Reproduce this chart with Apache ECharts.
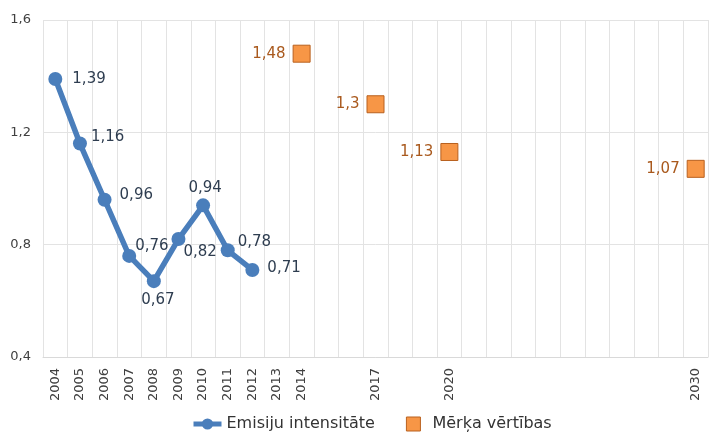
<!DOCTYPE html>
<html>
<head>
<meta charset="utf-8">
<script src="https://cdn.jsdelivr.net/npm/echarts@6/dist/echarts.min.js"></script>
<style>
    html, body { margin: 0; padding: 0; background: #fff; }
    #chart { width: 709px; height: 437px; }
</style>
</head>
<body>
<div id="chart"></div>
<script>
const years = ['2004', '2005', '2006', '2007', '2008', '2009', '2010', '2011', '2012', '2013',
    '2014', '2015', '2016', '2017', '2018', '2019', '2020', '2021', '2022', '2023',
    '2024', '2025', '2026', '2027', '2028', '2029', '2030'];
const shownYears = ['2004', '2005', '2006', '2007', '2008', '2009', '2010', '2011', '2012', '2013',
    '2014', '2017', '2020', '2030'];
const intensityYears = ['2004', '2005', '2006', '2007', '2008', '2009', '2010', '2011', '2012'];
const intensityValues = [1.39, 1.16, 0.96, 0.76, 0.67, 0.82, 0.94, 0.78, 0.71];
const targetYears = ['2014', '2017', '2020', '2030'];
const targetValues = [1.48, 1.3, 1.13, 1.07];

// label placement for each point of the blue line
const intensityLabelPos = ['right', 'right', 'right', 'right', 'bottom', 'right', 'top', 'right', 'right'];
const intensityLabelOffset = [[2, 0], [-4, -6], [0, -5], [-9, -10], [4, -4], [-10, 13], [2, 5], [-5, -8], [0, -2]];

const comma = v => String(v).replace('.', ',');

const chart = echarts.init(document.getElementById('chart'));

chart.setOption({
    textStyle: { fontFamily: 'DejaVu Sans' },
    animation: false,
    grid: {
        left: 43,
        right: 1,
        top: 20,
        bottom: 80
    },
    legend: {
        bottom: 0,
        left: 186,
        itemGap: 31,
        itemWidth: 28,
        itemHeight: 14,
        textStyle: { color: '#333', fontSize: 16, fontFamily: 'DejaVu Sans' },
        data: [
            { name: 'Emisiju intensitāte', lineStyle: { width: 5 } },
            {
                name: 'Mērķa vērtības',
                icon: 'path://M0,0 L10,0 L10,10 L0,10 Z',
                itemStyle: { color: '#f79646', opacity: 1, borderColor: '#b9611f', borderWidth: 1 }
            }
        ]
    },
    xAxis: {
        type: 'category',
        data: years,
        boundaryGap: true,
        axisLine: { lineStyle: { color: '#d9d9d9' } },
        axisTick: { show: false },
        splitLine: { show: true, interval: 0, lineStyle: { color: '#e3e3e3' } },
        axisLabel: {
            interval: 0,
            rotate: 90,
            margin: 11,
            color: '#404040',
            fontSize: 13,
            formatter: v => shownYears.includes(v) ? v : ''
        }
    },
    yAxis: {
        type: 'value',
        min: 0.4,
        max: 1.6,
        interval: 0.4,
        axisLine: { show: false },
        axisTick: { show: false },
        splitLine: { lineStyle: { color: '#e3e3e3' } },
        axisLabel: {
            color: '#404040',
            fontSize: 13,
            margin: 12,
            formatter: v => comma(Math.round(v * 10) / 10)
        }
    },
    series: [
        {
            name: 'Emisiju intensitāte',
            type: 'line',
            data: intensityYears.map((y, i) => ({
                value: [y, intensityValues[i]],
                label: { position: intensityLabelPos[i], offset: intensityLabelOffset[i] }
            })),
            symbol: 'circle',
            symbolSize: 14,
            lineStyle: { color: '#4a7ebb', width: 5.5 },
            itemStyle: { color: '#4a7ebb' },
            label: {
                show: true,
                distance: 8,
                color: '#2e3d50',
                fontSize: 15,
                formatter: p => comma(p.value[1])
            }
        },
        {
            name: 'Mērķa vērtības',
            type: 'scatter',
            data: targetYears.map((y, i) => [y, targetValues[i]]),
            symbol: 'rect',
            symbolSize: 17,
            itemStyle: { color: '#f79646', opacity: 1, borderColor: '#b9611f', borderWidth: 1 },
            label: {
                show: true,
                position: 'left',
                distance: 7,
                color: '#a9591d',
                fontSize: 15,
                formatter: p => comma(p.value[1])
            }
        }
    ]
});
</script>
</body>
</html>
